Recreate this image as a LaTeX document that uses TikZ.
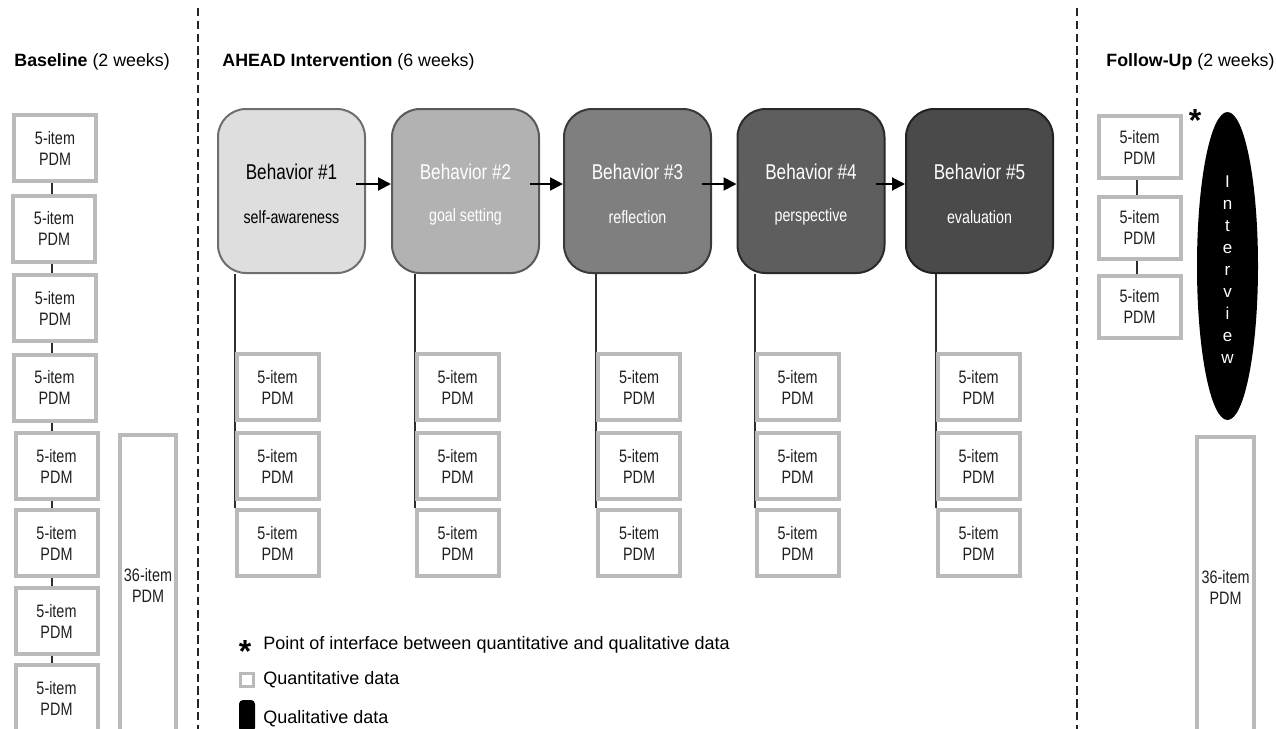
\documentclass[tikz,border=0pt]{standalone}
\usepackage{fontspec}
\setmainfont{Liberation Sans}
\newfontfamily\narrowsans[FakeStretch=0.8]{Liberation Sans}
\usetikzlibrary{arrows.meta,calc,backgrounds,shapes.geometric}

\definecolor{pdmgray}{HTML}{BABABA}
\definecolor{linkgray}{HTML}{2E2E2E}
\definecolor{behA}{HTML}{DEDEDE}
\definecolor{behB}{HTML}{B2B2B2}
\definecolor{behC}{HTML}{7F7F7F}
\definecolor{behD}{HTML}{5E5E5E}
\definecolor{behE}{HTML}{4A4A4A}
\definecolor{bordA}{HTML}{6E6E6E}
\definecolor{bordB}{HTML}{5A5A5A}
\definecolor{bordC}{HTML}{3A3A3A}
\definecolor{bordD}{HTML}{2A2A2A}
\definecolor{bordE}{HTML}{222222}

\tikzset{
  pdm/.style={draw=pdmgray, line width=2pt, fill=white, inner sep=0pt,
    minimum width=41pt, minimum height=33pt, align=center, text=black!88,
    font=\narrowsans\fontsize{9pt}{10.5pt}\selectfont},
  longpdm/.style={pdm, minimum width=28pt, minimum height=150pt},
  behav/.style={rounded corners=14pt, line width=1pt, inner sep=0pt,
    minimum width=73.5pt, minimum height=82pt},
  btitle/.style={font=\narrowsans\fontsize{10.7pt}{12pt}\selectfont, inner sep=0pt},
  bsub/.style={font=\narrowsans\fontsize{8.9pt}{10pt}\selectfont, inner sep=0pt},
  head/.style={anchor=west, inner sep=0pt, font=\fontsize{8.9pt}{10.5pt}\selectfont},
  legendtext/.style={anchor=west, inner sep=0pt, font=\fontsize{9pt}{10pt}\selectfont},
  link/.style={draw=linkgray, line width=1pt},
  flow/.style={draw=black, line width=1pt, -{Triangle[length=6.5pt,width=6.5pt]}},
  phase/.style={draw=black!85, line width=1pt, dash pattern=on 4.2pt off 2.2pt},
  star/.style={inner sep=0pt, font=\bfseries\fontsize{16pt}{16pt}\selectfont}
}

\begin{document}
\begin{tikzpicture}[x=0.5pt,y=-0.5pt]
\clip (0,0) rectangle (1276,729);

% phase separators
\draw[phase] (198,8) -- (198,729);
\draw[phase] (1077,8) -- (1077,729);

% phase headings
\node[head] (hbase) at (14,62) {\textbf{Baseline} (2 weeks)};
\node[head] (hint) at (222,62) {\textbf{AHEAD Intervention} (6 weeks)};
\node[head] (hfol) at (1106,62) {\textbf{Follow-Up} (2 weeks)};

% baseline measures
\foreach \i/\x/\y in {1/55/148, 2/54/228.5, 3/55/308, 4/54.5/387.5,
                      5/56.5/466, 6/56.5/543, 7/56.5/621, 8/56.5/698}
  \node[pdm] (l\i) at (\x,\y) {5-item\\PDM};
\node[longpdm] (lbig) at (148,585) {36-item\\PDM};
\coordinate (lx) at (52,0);
\begin{scope}[on background layer]
  \foreach \i/\j in {1/2,2/3,3/4,4/5,5/6,6/7,7/8}
    \draw[link] (l\i.south -| lx) -- (l\j.north -| lx);
\end{scope}

% intervention behaviours
\foreach \i/\x/\fc/\bc/\tc/\sub in {
    1/291.5/behA/bordA/black/self-awareness,
    2/465.5/behB/bordB/white/goal setting,
    3/637.5/behC/bordC/white/reflection,
    4/811/behD/bordD/white/perspective,
    5/979.5/behE/bordE/white/evaluation} {
  \node[behav, fill=\fc, draw=\bc] (b\i) at (\x,191) {};
  \node[btitle, text=\tc] (b\i t) at ($(b\i)+(0,-19)$) {Behavior \#\i};
  \node[bsub, text=\tc] (b\i s) at ($(b\i)+(0,26)$) {\sub};
}
\foreach \i/\j in {1/2,2/3,3/4,4/5}
  \draw[flow] ($(b\i.east)+(-10,-7)$) -- ($(b\j.west)+(0,-7)$);

% weekly measures below each behaviour
\foreach \i/\x in {1/277.5, 2/457.5, 3/639, 4/797.5, 5/978.5} {
  \node[pdm] (c\i a) at (\x,387) {5-item\\PDM};
  \node[pdm] (c\i b) at (\x,466) {5-item\\PDM};
  \node[pdm] (c\i c) at (\x,543) {5-item\\PDM};
}
\begin{scope}[on background layer]
  \foreach \i in {1,...,5}
    \draw[link] (c\i c.north west) -- (c\i c.north west |- b\i.south);
\end{scope}

% follow-up measures
\foreach \i/\y in {1/147, 2/227.5, 3/306.5}
  \node[pdm, minimum height=31pt] (f\i) at (1139.5,\y) {5-item\\PDM};
\node[longpdm, minimum width=28.5pt] (fbig) at (1225.5,587) {36-item\\PDM};
\coordinate (fx) at (1137,0);
\begin{scope}[on background layer]
  \foreach \i/\j in {1/2,2/3}
    \draw[link] (f\i.south -| fx) -- (f\j.north -| fx);
\end{scope}

% qualitative interview
\node[ellipse, fill=black, inner sep=0pt, minimum width=30.5pt,
      minimum height=154pt] (iv) at (1227.5,266) {};
\node[align=center, text=white, inner sep=0pt,
      font=\fontsize{8.5pt}{11pt}\selectfont] (ivt) at (1227.5,270)
  {I\\n\\t\\e\\r\\v\\i\\e\\w};
\node[star] (ivstar) at (1195,120) {*};

% legend
\node[star] (lgstar) at (245,651) {*};
\node[legendtext] (lgstart) at (263,645) {Point of interface between quantitative and qualitative data};
\node[draw=pdmgray, fill=white, line width=1.5pt, minimum size=6.5pt,
      inner sep=0pt] (lgq) at (246.5,679.5) {};
\node[legendtext] (lgqt) at (263,680) {Quantitative data};
\node[fill=black, rounded corners=2pt, minimum width=8pt, minimum height=16pt,
      inner sep=0pt] (lgl) at (247,716) {};
\node[legendtext] (lglt) at (263,719) {Qualitative data};
\end{tikzpicture}
\end{document}
